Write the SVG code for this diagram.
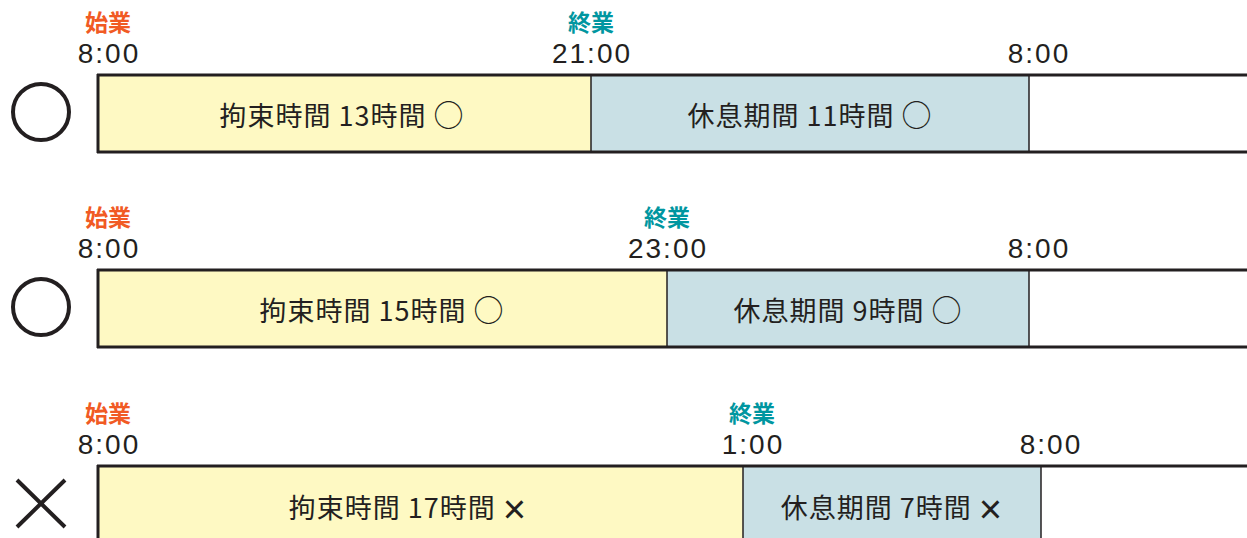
<svg xmlns="http://www.w3.org/2000/svg" width="1247" height="538" viewBox="0 0 1247 538">
<style>
.bind{fill:#fef9c3}
.rest{fill:#c9e0e5}
.edge{stroke:#231f20;stroke-width:3;fill:none}
.div{stroke:#231f20;stroke-width:1.5;fill:none}
.lbl{font-family:"Noto Sans CJK JP","Noto Sans",sans-serif;font-size:27px;fill:#231f20;text-anchor:middle;letter-spacing:1px}
.x{font-family:"Liberation Sans",sans-serif;font-size:40px}
.o{font-size:30px}
.time{font-family:"Liberation Sans","Noto Sans",sans-serif;font-size:28px;fill:#231f20;text-anchor:middle;letter-spacing:2px}
.start{font-family:"Noto Sans CJK JP","Noto Sans",sans-serif;font-size:23px;font-weight:bold;fill:#f15a24;text-anchor:middle}
.end{font-family:"Noto Sans CJK JP","Noto Sans",sans-serif;font-size:23px;font-weight:bold;fill:#0096a0;text-anchor:middle}
.mark{stroke:#231f20;stroke-width:4;fill:none}
</style>
<rect width="1247" height="538" fill="#ffffff"/>

<g id="row1">
<rect class="bind" x="97" y="75" width="494" height="77"/>
<rect class="rest" x="591" y="75" width="438" height="77"/>
<line class="edge" x1="97" y1="75" x2="1247" y2="75"/>
<line class="edge" x1="97" y1="152" x2="1247" y2="152"/>
<line class="edge" x1="98" y1="74" x2="98" y2="153"/>
<line class="div" x1="591" y1="75" x2="591" y2="152"/>
<line class="div" x1="1029" y1="75" x2="1029" y2="152"/>
<circle class="mark" cx="41" cy="112" r="28"/>
<text class="start" x="108" y="31">始業</text>
<text class="time" x="109" y="63">8:00</text>
<text class="end" x="591" y="31">終業</text>
<text class="time" x="592" y="63">21:00</text>
<text class="time" x="1039" y="63">8:00</text>
<text class="lbl" x="342" y="126">拘束時間 13時間 <tspan class="o">○</tspan></text>
<text class="lbl" x="810" y="126">休息期間 11時間 <tspan class="o">○</tspan></text>
</g>

<g id="row2">
<rect class="bind" x="97" y="270" width="570" height="77"/>
<rect class="rest" x="667" y="270" width="362" height="77"/>
<line class="edge" x1="97" y1="270" x2="1247" y2="270"/>
<line class="edge" x1="97" y1="347" x2="1247" y2="347"/>
<line class="edge" x1="98" y1="269" x2="98" y2="348"/>
<line class="div" x1="667" y1="270" x2="667" y2="347"/>
<line class="div" x1="1029" y1="270" x2="1029" y2="347"/>
<circle class="mark" cx="41" cy="307" r="28"/>
<text class="start" x="108" y="226">始業</text>
<text class="time" x="109" y="258">8:00</text>
<text class="end" x="667" y="226">終業</text>
<text class="time" x="668" y="258">23:00</text>
<text class="time" x="1039" y="258">8:00</text>
<text class="lbl" x="382" y="321">拘束時間 15時間 <tspan class="o">○</tspan></text>
<text class="lbl" x="848" y="321">休息期間 9時間 <tspan class="o">○</tspan></text>
</g>

<g id="row3">
<rect class="bind" x="97" y="466" width="646" height="72"/>
<rect class="rest" x="743" y="466" width="298" height="72"/>
<line class="edge" x1="97" y1="466" x2="1247" y2="466"/>
<line class="edge" x1="98" y1="465" x2="98" y2="538"/>
<line class="div" x1="743" y1="466" x2="743" y2="538"/>
<line class="div" x1="1041" y1="466" x2="1041" y2="538"/>
<path class="mark" d="M17 480 L65 527 M65 480 L17 527"/>
<text class="start" x="108" y="422">始業</text>
<text class="time" x="109" y="454">8:00</text>
<text class="end" x="752" y="422">終業</text>
<text class="time" x="753" y="454">1:00</text>
<text class="time" x="1051" y="454">8:00</text>
<text class="lbl" x="408" y="518">拘束時間 17時間 <tspan class="x" dy="5">×</tspan></text>
<text class="lbl" x="892" y="518">休息期間 7時間 <tspan class="x" dy="5">×</tspan></text>
</g>
</svg>
